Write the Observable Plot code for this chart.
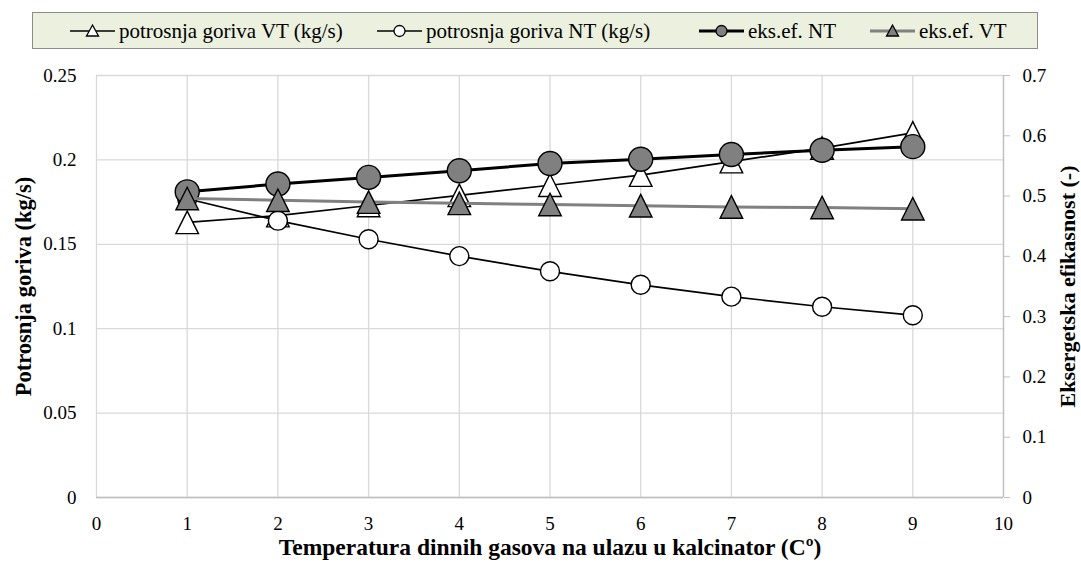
<!DOCTYPE html>
<html>
<head>
<meta charset="utf-8">
<script src="https://cdn.jsdelivr.net/npm/d3@7"></script>
<script src="https://cdn.jsdelivr.net/npm/@observablehq/plot@0.6"></script>
<style>
  html, body { margin: 0; padding: 0; background: #fff; }
  body { width: 1081px; height: 568px; overflow: hidden; font-family: "Liberation Serif", "Times New Roman", serif; }
  #legend { position: relative; width: 1081px; height: 56px; }
  #legend .box { position: absolute; left: 32px; top: 12px; width: 1006px; height: 37px; background: #ebf1de; border: 1px solid #8c8c8c; box-sizing: border-box; }
  #legend .item { position: absolute; top: 19px; height: 24px; display: flex; align-items: center; font-size: 21px; color: #000; white-space: nowrap; }
  #legend .item svg { margin-right: 4px; }
</style>
</head>
<body>
<div id="legend"><div class="box"></div></div>
<div id="chart"></div>
<script>
// ---- data ----
const xValues = [1, 2, 3, 4, 5, 6, 7, 8, 9];
const fuelVT = [0.163, 0.167, 0.173, 0.179, 0.185, 0.191, 0.199, 0.207, 0.216];
const fuelNT = [0.177, 0.164, 0.153, 0.143, 0.134, 0.126, 0.119, 0.113, 0.108];
const exergyNT = [0.507, 0.520, 0.531, 0.542, 0.554, 0.561, 0.569, 0.576, 0.582];
const exergyVT = [0.496, 0.493, 0.490, 0.488, 0.486, 0.484, 0.482, 0.481, 0.479];
const seriesNames = ["potrosnja goriva VT (kg/s)", "potrosnja goriva NT (kg/s)", "eks.ef. NT", "eks.ef. VT"];
const xTicks = [0, 1, 2, 3, 4, 5, 6, 7, 8, 9, 10];
const leftTicks = [0, 0.05, 0.1, 0.15, 0.2, 0.25];
const rightTicks = [0, 0.1, 0.2, 0.3, 0.4, 0.5, 0.6, 0.7];
const xTitle = "Temperatura dinnih gasova na ulazu u kalcinator (Cº)";
const yLeftTitle = "Potrosnja goriva (kg/s)";
const yRightTitle = "Eksergetska efikasnost (-)";

// ---- scales ----
const leftMax = 0.25, rightMax = 0.7;
const k = leftMax / rightMax; // right-axis value -> left-axis units
const fmt = d => String(+d.toFixed(3));

const rows = (ys, scale = 1) => xValues.map((x, i) => ({x, y: ys[i] * scale}));
const dVT = rows(fuelVT), dNT = rows(fuelNT), eNT = rows(exergyNT, k), eVT = rows(exergyVT, k);

// triangle with bbox centre at the point (like the spreadsheet marker)
const tri = {
  draw(ctx, size) {
    const w = Math.sqrt(2 * size), h = w;
    ctx.moveTo(0, -h / 2);
    ctx.lineTo(w / 2, h / 2);
    ctx.lineTo(-w / 2, h / 2);
    ctx.closePath();
  }
};

const grey = "#808080";
const gridC = "#d9d9d9";

const chart = Plot.plot({
  width: 1081,
  height: 512,
  marginTop: 19,
  marginBottom: 71,
  marginLeft: 96,
  marginRight: 78,
  style: {fontFamily: "'Liberation Serif', 'Times New Roman', serif", fontSize: "19px", background: "white", color: "black"},
  x: {domain: [0, 10]},
  y: {domain: [0, leftMax]},
  marks: [
    Plot.gridY(leftTicks, {stroke: gridC, strokeOpacity: 1, strokeWidth: 1.3}),
    Plot.gridX(xTicks, {stroke: gridC, strokeOpacity: 1, strokeWidth: 1.3}),
    Plot.ruleY([0], {stroke: "#bfbfbf", strokeWidth: 1.3}),
    Plot.ruleX([10], {stroke: "#bfbfbf", strokeWidth: 1.3}),
    Plot.axisX(xTicks, {tickSize: 0, tickPadding: 19, tickFormat: d => String(d), label: null, fontSize: 19}),
    Plot.axisY(leftTicks, {anchor: "left", tickSize: 0, tickPadding: 20, tickFormat: fmt, label: null, fontSize: 19}),
    Plot.axisY(rightTicks.map(v => v * k), {anchor: "right", tickSize: 6, tickPadding: 13, stroke: "#bfbfbf", fill: "black", tickFormat: d => fmt(d / k), label: null, fontSize: 19}),
    Plot.text([yLeftTitle], {text: d => d, frameAnchor: "left", textAnchor: "middle", dx: -73, rotate: -90, fontWeight: "bold", fontSize: 22.5}),
    Plot.text([yRightTitle], {text: d => d, frameAnchor: "right", textAnchor: "middle", dx: 64, rotate: -90, fontWeight: "bold", fontSize: 22}),
    Plot.text([xTitle], {text: d => d, frameAnchor: "bottom", textAnchor: "middle", dy: 57, fontWeight: "bold", fontSize: 23.5}),
    // series 1: fuel VT
    Plot.line(dVT, {x: "x", y: "y", stroke: "black", strokeWidth: 1.7}),
    Plot.dot(dVT, {x: "x", y: "y", symbol: tri, r: 9, fill: "white", stroke: "black", strokeWidth: 1.4}),
    // series 2: fuel NT
    Plot.line(dNT, {x: "x", y: "y", stroke: "black", strokeWidth: 1.7}),
    Plot.dot(dNT, {x: "x", y: "y", r: 9.5, fill: "white", stroke: "black", strokeWidth: 1.4}),
    // series 3: exergy NT
    Plot.line(eNT, {x: "x", y: "y", stroke: "black", strokeWidth: 3}),
    Plot.dot(eNT, {x: "x", y: "y", r: 12, fill: grey, stroke: "black", strokeWidth: 1.4}),
    // series 4: exergy VT
    Plot.line(eVT, {x: "x", y: "y", stroke: grey, strokeWidth: 3}),
    Plot.dot(eVT, {x: "x", y: "y", symbol: tri, r: 9, fill: grey, stroke: "black", strokeWidth: 1.4})
  ]
});
document.getElementById("chart").appendChild(chart);

// ---- legend ----
const legendStyles = [
  {left: 70, line: "black", lw: 1.7, shape: "tri", fill: "white"},
  {left: 377, line: "black", lw: 1.7, shape: "circle", fill: "white"},
  {left: 699, line: "black", lw: 3, shape: "circle", fill: grey},
  {left: 870, line: grey, lw: 3, shape: "tri", fill: grey}
];
const legend = document.getElementById("legend");
seriesNames.forEach((name, i) => {
  const s = legendStyles[i];
  const item = document.createElement("div");
  item.className = "item";
  item.style.left = s.left + "px";
  const marker = s.shape === "circle"
    ? `<circle cx="22.5" cy="12" r="5.5" fill="${s.fill}" stroke="black" stroke-width="1.3"/>`
    : `<path d="M22.5,6 L28.5,17 L16.5,17 Z" fill="${s.fill}" stroke="black" stroke-width="1.3"/>`;
  item.innerHTML = `<svg width="45" height="24"><line x1="0" x2="45" y1="12" y2="12" stroke="${s.line}" stroke-width="${s.lw}"/>${marker}</svg><span>${name}</span>`;
  legend.appendChild(item);
});
</script>
</body>
</html>
